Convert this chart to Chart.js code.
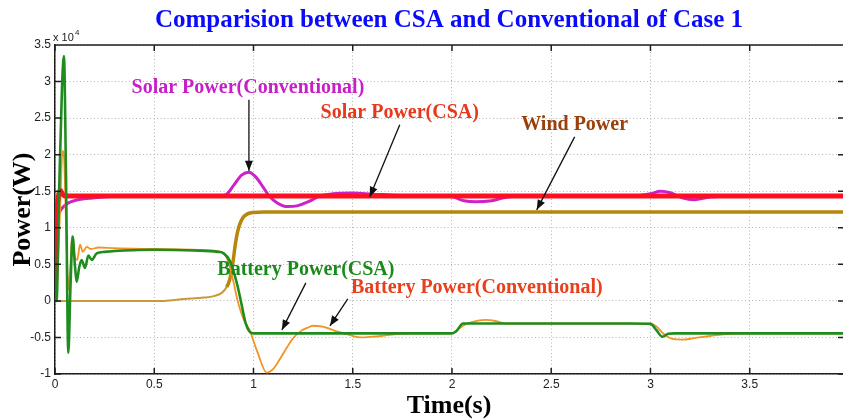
<!DOCTYPE html>
<html>
<head>
<meta charset="utf-8">
<script src="https://cdn.jsdelivr.net/npm/chart.js@4.4.1/dist/chart.umd.min.js"></script>
<style>
  html, body { margin: 0; padding: 0; background: #fff; }
  #wrap { width: 843px; height: 419px; }
</style>
</head>
<body>
<div id="wrap"><canvas id="case1_chart"></canvas></div>
<script>
// tick values (time in s, power in W)
const xTicks = [0, 0.5, 1, 1.5, 2, 2.5, 3, 3.5];
const yTicks = [-10000, -5000, 0, 5000, 10000, 15000, 20000, 25000, 30000, 35000];

// Solar Power (CSA)
const tSolarCSA = [0, 0.003, 0.006, 0.012, 0.02, 0.028, 0.036, 0.046, 0.06, 0.2, 0.6, 1.0, 1.4, 1.8, 2.2, 2.6, 3.0, 3.4, 3.97];
const solarCSA  = [0, 9500, 11300, 13200, 14700, 15100, 14700, 14400, 14350, 14350, 14350, 14350, 14350, 14350, 14350, 14350, 14350, 14350, 14350];

// Solar Power (Conventional)
const tSolarConv = [0, 0.004, 0.015, 0.03, 0.06, 0.11, 0.2, 0.3, 0.5, 0.8, 0.86, 0.9, 0.94, 0.977, 1.01, 1.05, 1.08, 1.12, 1.17, 1.22, 1.28, 1.33, 1.4, 1.5, 1.6, 1.75, 1.9, 2.0, 2.06, 2.12, 2.2, 2.26, 2.35, 2.6, 2.9, 3.0, 3.05, 3.1, 3.16, 3.22, 3.3, 3.5, 3.97];
const solarConv  = [0, 11200, 11800, 12500, 13300, 13800, 14100, 14300, 14350, 14350, 14500, 15800, 17200, 17600, 17000, 15500, 14300, 13400, 12900, 13000, 13600, 14300, 14650, 14750, 14600, 14400, 14350, 14250, 13700, 13550, 13700, 14100, 14350, 14350, 14350, 14650, 15000, 14800, 14100, 13850, 14200, 14350, 14350];

// Wind Power
const tWind = [0, 0.55, 0.65, 0.75, 0.8, 0.84, 0.865, 0.88, 0.895, 0.91, 0.925, 0.945, 0.97, 1.0, 1.05, 1.5, 2.0, 2.5, 3.0, 3.5, 3.97];
const wind  = [0, 0, 250, 450, 650, 1100, 1900, 2900, 5000, 8000, 10000, 11300, 11900, 12100, 12150, 12150, 12150, 12150, 12150, 12150, 12150];

// Battery Power (CSA)
const tBattCSA = [0, 0.008, 0.02, 0.035, 0.045, 0.055, 0.067, 0.078, 0.089, 0.1, 0.109, 0.122, 0.134, 0.151, 0.168, 0.185, 0.21, 0.25, 0.35, 0.5, 0.7, 0.82, 0.85, 0.88, 0.9, 0.92, 0.94, 0.96, 0.98, 1.0, 1.3, 1.6, 1.9, 2.0, 2.02, 2.056, 2.3, 2.6, 2.9, 3.0, 3.03, 3.06, 3.09, 3.12, 3.5, 3.97];
const battCSA  = [0, 0, 14000, 29000, 33500, 18000, -7100, 2000, 8800, 5000, 2600, 4600, 5600, 4500, 6200, 5600, 6500, 6700, 6900, 7000, 6900, 6700, 6500, 5500, 4000, 2000, -500, -3000, -4200, -4450, -4450, -4450, -4450, -4450, -4200, -3100, -3100, -3100, -3100, -3150, -4000, -4900, -4500, -4450, -4450, -4450];

// Battery Power (Conventional)
const tBattConv = [0, 0.01, 0.025, 0.038, 0.046, 0.056, 0.068, 0.078, 0.086, 0.1, 0.112, 0.126, 0.14, 0.16, 0.18, 0.22, 0.3, 0.5, 0.7, 0.82, 0.86, 0.88, 0.9, 0.92, 0.95, 0.98, 1.02, 1.066, 1.1, 1.13, 1.17, 1.2, 1.24, 1.27, 1.3, 1.34, 1.37, 1.41, 1.45, 1.5, 1.54, 1.6, 1.64, 1.7, 1.8, 2.0, 2.02, 2.04, 2.07, 2.1, 2.17, 2.22, 2.27, 2.35, 2.6, 3.0, 3.03, 3.07, 3.11, 3.16, 3.22, 3.3, 3.4, 3.5, 3.97];
const battConv  = [0, 2000, 12000, 20500, 19500, 10000, 1500, 5000, 8900, 6000, 5600, 7700, 6700, 7400, 7100, 7300, 7200, 7100, 7000, 6800, 6200, 4700, 2500, 0, -2500, -4000, -7000, -9800, -9300, -8100, -6300, -5100, -4100, -3700, -3400, -3500, -3700, -4100, -4400, -4800, -5000, -4900, -4800, -4600, -4450, -4450, -4100, -3700, -3200, -2900, -2600, -2750, -3100, -3100, -3100, -3100, -3500, -4600, -5200, -5300, -5100, -4800, -4500, -4450, -4450];

const pts = (t, v) => t.map((x, i) => ({x: x, y: v[i]}));

// text callouts, placed in data units
const notes = [
  {text: 'Solar Power(Conventional)', color: '#c81ec8', at: [0.972, 29140], from: [0.977, 27500], to: [0.977, 17800]},
  {text: 'Solar Power(CSA)', color: '#e8381c', at: [1.737, 25720], from: [1.737, 24080], to: [1.586, 14230]},
  {text: 'Wind Power', color: '#99400c', at: [2.618, 24080], from: [2.618, 22440], to: [2.427, 12450]},
  {text: 'Battery Power(CSA)', color: '#1a8a1a', at: [1.264, 4240], from: [1.264, 2460], to: [1.143, -3970]},
  {text: 'Battery Power(Conventional)', color: '#e8401c', at: [2.125, 1780], from: [1.475, 270], to: [1.385, -3420]}
];

const serif = '"Liberation Serif", "Times New Roman", serif';
const sans = '"Liberation Sans", Arial, sans-serif';

const callouts = {
  id: 'callouts',
  afterDatasetsDraw(chart) {
    const {ctx, scales: {x, y}} = chart;
    ctx.save();
    notes.forEach(n => {
      const x1 = x.getPixelForValue(n.from[0]), y1 = y.getPixelForValue(n.from[1]);
      const x2 = x.getPixelForValue(n.to[0]), y2 = y.getPixelForValue(n.to[1]);
      ctx.strokeStyle = '#111';
      ctx.fillStyle = '#111';
      ctx.lineWidth = 1.3;
      ctx.beginPath();
      ctx.moveTo(x1, y1);
      ctx.lineTo(x2, y2);
      ctx.stroke();
      const ang = Math.atan2(y2 - y1, x2 - x1);
      ctx.beginPath();
      ctx.moveTo(x2, y2);
      ctx.lineTo(x2 - 10 * Math.cos(ang) + 4 * Math.sin(ang), y2 - 10 * Math.sin(ang) - 4 * Math.cos(ang));
      ctx.lineTo(x2 - 10 * Math.cos(ang) - 4 * Math.sin(ang), y2 - 10 * Math.sin(ang) + 4 * Math.cos(ang));
      ctx.closePath();
      ctx.fill();
      ctx.font = 'bold 20px ' + serif;
      ctx.textAlign = 'center';
      ctx.textBaseline = 'middle';
      ctx.fillStyle = n.color;
      ctx.fillText(n.text, x.getPixelForValue(n.at[0]), y.getPixelForValue(n.at[1]));
    });
    ctx.restore();
  }
};

// top border, inward tick marks and the x10^4 exponent
const frame = {
  id: 'frame',
  afterDraw(chart) {
    const {ctx, chartArea: a, scales: {x, y}} = chart;
    ctx.save();
    ctx.strokeStyle = '#1e1e1e';
    ctx.lineWidth = 1.5;
    ctx.beginPath();
    ctx.moveTo(a.left, a.top);
    ctx.lineTo(a.right, a.top);
    x.ticks.forEach(t => {
      const px = x.getPixelForValue(t.value);
      ctx.moveTo(px, a.bottom); ctx.lineTo(px, a.bottom - 6);
      ctx.moveTo(px, a.top); ctx.lineTo(px, a.top + 6);
    });
    y.ticks.forEach(t => {
      const py = y.getPixelForValue(t.value);
      ctx.moveTo(a.left, py); ctx.lineTo(a.left + 6, py);
      ctx.moveTo(a.right, py); ctx.lineTo(a.right - 5, py);
    });
    ctx.stroke();
    ctx.fillStyle = '#222';
    ctx.textBaseline = 'alphabetic';
    ctx.font = '11px ' + sans;
    ctx.fillText('x 10', a.left - 2, a.top - 4);
    ctx.font = '8px ' + sans;
    ctx.fillText('4', a.left + 20, a.top - 10);
    ctx.restore();
  }
};

new Chart('case1_chart', {
  type: 'line',
  data: {
    datasets: [
      {label: 'Battery Power(CSA)', data: pts(tBattCSA, battCSA), borderColor: '#1f8c1f', borderWidth: 2.6, order: 0},
      {label: 'Solar Power(CSA)', data: pts(tSolarCSA, solarCSA), borderColor: '#ff1020', borderWidth: 5, order: 1},
      {label: 'Battery Power(Conventional)', data: pts(tBattConv, battConv), borderColor: '#f29326', borderWidth: 1.8, order: 2},
      {label: 'Wind Power', data: pts(tWind, wind), borderColor: '#b8860b', borderWidth: 3.5, order: 3,
       segment: {borderWidth: c => c.p0.parsed.x < 0.85 ? 2 : 3.5, borderColor: c => c.p0.parsed.x < 0.85 ? '#c9993a' : '#b8860b'}},
      {label: 'Solar Power(Conventional)', data: pts(tSolarConv, solarConv), borderColor: '#cc22cc', borderWidth: 3, order: 4}
    ]
  },
  options: {
    responsive: true,
    maintainAspectRatio: false,
    animation: false,
    layout: {padding: 0},
    elements: {
      point: {radius: 0},
      line: {cubicInterpolationMode: 'monotone'}
    },
    plugins: {
      legend: {display: false},
      tooltip: {enabled: false},
      title: {
        display: true,
        fullSize: false,
        text: 'Comparision between CSA and Conventional of Case 1',
        color: '#0a0aff',
        font: {family: serif, size: 25, weight: 'bold', lineHeight: 1.2},
        padding: {top: 6, bottom: 9}
      }
    },
    scales: {
      x: {
        type: 'linear',
        min: 0,
        max: 3.97,
        afterBuildTicks: s => { s.ticks = xTicks.map(v => ({value: v})); },
        afterFit: s => { s.height = 45; },
        ticks: {color: '#222', font: {family: sans, size: 12}, padding: 3, maxRotation: 0,
                callback: v => String(v)},
        grid: {color: '#b4b4b4', lineWidth: 1, drawTicks: false},
        border: {display: true, color: '#1e1e1e', width: 1.5, dash: [1, 2.5]},
        title: {display: true, text: 'Time(s)', color: '#000',
                font: {family: serif, size: 26, weight: 'bold', lineHeight: 1}, padding: 0}
      },
      y: {
        min: -10000,
        max: 35000,
        afterBuildTicks: s => { s.ticks = yTicks.map(v => ({value: v})); },
        afterFit: s => { s.width = 55; },
        ticks: {color: '#222', font: {family: sans, size: 12}, padding: 4,
                callback: v => String(v / 10000)},
        grid: {color: '#b4b4b4', lineWidth: 1, drawTicks: false},
        border: {display: true, color: '#1e1e1e', width: 1.5, dash: [1, 2.5]},
        title: {display: true, text: 'Power(W)', color: '#000',
                font: {family: serif, size: 26, weight: 'bold', lineHeight: 1}, padding: {top: 10, bottom: 0}}
      }
    }
  },
  plugins: [callouts, frame]
});
</script>
</body>
</html>
